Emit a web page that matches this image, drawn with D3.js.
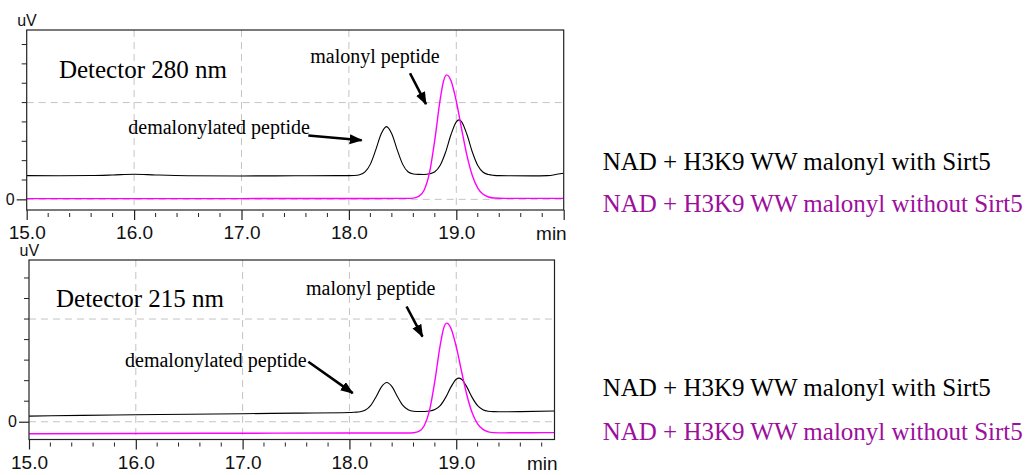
<!DOCTYPE html>
<html><head><meta charset="utf-8">
<script src="https://cdn.jsdelivr.net/npm/d3@7"></script>
<style>body{margin:0;background:#fff} svg{display:block}
.serif{font-family:"Liberation Serif","Tinos","DejaVu Serif","Noto Serif","Times New Roman",serif}
.sans{font-family:"Liberation Sans",Arimo,Arial,Helvetica,sans-serif}
</style>
</head><body>
<svg id="chart" width="1036" height="475"></svg>
<script>
// ---------------- DATA ----------------
const xTickValues = [15, 16, 17, 18, 19, 20];
const xTickLabels = ["15.0", "16.0", "17.0", "18.0", "19.0", ""];
const yTickLabels = ["0"];
const seriesNames = ["NAD + H3K9 WW malonyl with Sirt5", "NAD + H3K9 WW malonyl without Sirt5"];
const detectorLabels = ["Detector 280 nm", "Detector 215 nm"];
const peakLabels = ["demalonylated peptide", "malonyl peptide"];

// Detector 280 nm, with Sirt5 (black)
const t280With = [15.0,15.3,15.6,15.8,16.0,16.2,16.5,17.0,17.5,17.9,18.0,18.05,18.1,18.15,18.2,18.25,18.3,18.35,18.4,18.45,18.5,18.55,18.6,18.65,18.7,18.75,18.8,18.85,18.9,18.95,19.0,19.025,19.05,19.1,19.15,19.2,19.25,19.3,19.35,19.4,19.5,19.7,19.85,19.95,20.0];
const v280With = [0.245,0.244,0.246,0.252,0.26,0.252,0.244,0.242,0.244,0.245,0.245,0.246,0.254,0.283,0.364,0.511,0.676,0.752,0.676,0.511,0.364,0.285,0.262,0.258,0.257,0.264,0.285,0.352,0.487,0.667,0.801,0.821,0.801,0.667,0.487,0.350,0.280,0.256,0.248,0.245,0.244,0.243,0.245,0.262,0.27];
// Detector 280 nm, without Sirt5 (magenta)
const t280Without = [15.0,16.0,17.0,18.0,18.5,18.55,18.6,18.65,18.7,18.75,18.8,18.85,18.88,18.91,18.95,19.0,19.05,19.1,19.15,19.2,19.25,19.3,19.35,19.45,19.7,20.0];
const v280Without = [0.008,0.008,0.008,0.009,0.01,0.01,0.013,0.030,0.094,0.273,0.615,1.032,1.217,1.286,1.228,1.014,0.724,0.449,0.243,0.116,0.052,0.024,0.014,0.01,0.01,0.01];
// Detector 215 nm, with Sirt5 (black)
const t215With = [15.0,15.5,16.0,16.5,17.0,17.5,18.0,18.05,18.1,18.15,18.2,18.25,18.3,18.35,18.4,18.45,18.5,18.55,18.6,18.65,18.7,18.75,18.8,18.85,18.9,18.95,19.0,19.025,19.05,19.1,19.15,19.2,19.25,19.3,19.35,19.4,19.6,19.92];
const v215With = [0.055,0.062,0.068,0.073,0.078,0.084,0.090,0.093,0.097,0.114,0.160,0.244,0.339,0.382,0.339,0.244,0.160,0.117,0.102,0.099,0.100,0.104,0.119,0.157,0.235,0.337,0.414,0.425,0.414,0.337,0.235,0.157,0.117,0.102,0.098,0.097,0.098,0.104];
// Detector 215 nm, without Sirt5 (magenta)
const t215Without = [15.0,16.0,17.0,18.0,18.55,18.6,18.65,18.7,18.75,18.8,18.85,18.88,18.91,18.95,19.0,19.05,19.1,19.15,19.2,19.25,19.3,19.35,19.45,19.7,19.92];
const v215Without = [-0.117,-0.114,-0.112,-0.110,-0.110,-0.107,-0.094,-0.039,0.110,0.397,0.747,0.902,0.960,0.911,0.732,0.489,0.258,0.085,-0.021,-0.075,-0.098,-0.106,-0.108,-0.107,-0.106];

// annotation anchors in data units [time, value]
const ann280 = {
  detector: [15.30, 1.254],
  malonylText: [17.64, 1.406], malonylArrow: [[18.569, 1.303], [18.718, 0.984]],
  demalText: [15.946, 0.676], demalArrow: [[17.622, 0.66], [18.119, 0.611]]
};
const ann215 = {
  detector: [15.253, 1.12],
  malonylText: [17.594, 1.234], malonylArrow: [[18.535, 1.122], [18.684, 0.828]],
  demalText: [15.899, 0.536], demalArrow: [[17.615, 0.584], [18.031, 0.279]]
};

// ---------------- LAYOUT ----------------
const panels = [
  { x0: 26.7, x1: 563.7, y0: 30, y1: 210, xd: [15, 20], yd: [-0.11, 1.75],
    series: [[t280With, v280With], [t280Without, v280Without]], ann: ann280, det: detectorLabels[0],
    legendY: [170, 211.7] },
  { x0: 29, x1: 554.5, y0: 260, y1: 439.5, xd: [15, 19.92], yd: [-0.173, 1.575],
    series: [[t215With, v215With], [t215Without, v215Without]], ann: ann215, det: detectorLabels[1],
    legendY: [396, 440] }
];
const colors = ["#000000", "#ff00ff"];
const legendColors = ["#000000", "#9c0f9c"];

const svg = d3.select("#chart");
const defs = svg.append("defs");
defs.append("marker").attr("id", "ah")
  .attr("viewBox", "0 0 13 10").attr("refX", 12).attr("refY", 5)
  .attr("markerWidth", 13).attr("markerHeight", 10)
  .attr("markerUnits", "userSpaceOnUse").attr("orient", "auto")
  .append("path").attr("d", "M0,0 L13,5 L0,10 Z").attr("fill", "#000");

panels.forEach((p, pi) => {
  const x = d3.scaleLinear().domain(p.xd).range([p.x0, p.x1]);
  const y = d3.scaleLinear().domain(p.yd).range([p.y1, p.y0]);
  const g = svg.append("g");

  defs.append("clipPath").attr("id", "clip" + pi).append("rect")
    .attr("x", p.x0).attr("y", p.y0).attr("width", p.x1 - p.x0).attr("height", p.y1 - p.y0);

  // grid
  const grid = g.append("g").attr("stroke", "#c4c4c4").attr("stroke-width", 1).attr("stroke-dasharray", "7,5");
  [16, 17, 18, 19].forEach(v => grid.append("line")
    .attr("x1", x(v)).attr("x2", x(v)).attr("y1", p.y0).attr("y2", p.y1));
  [0, 1].forEach(v => grid.append("line")
    .attr("x1", p.x0).attr("x2", p.x1).attr("y1", y(v)).attr("y2", y(v)));

  // curves
  const line = d3.line().x(d => x(d[0])).y(d => y(d[1])).curve(d3.curveMonotoneX);
  const cg = g.append("g").attr("clip-path", `url(#clip${pi})`);
  p.series.forEach((s, si) => {
    const pts = s[0].map((t, i) => [t, s[1][i]]);
    cg.append("path").datum(pts).attr("d", line).attr("fill", "none")
      .attr("stroke", colors[si]).attr("stroke-width", si === 1 ? 1.4 : 1.1);
  });

  // frame
  g.append("rect").attr("x", p.x0).attr("y", p.y0).attr("width", p.x1 - p.x0).attr("height", p.y1 - p.y0)
    .attr("fill", "none").attr("stroke", "#222").attr("stroke-width", 1.2);

  // x axis (major ticks + labels)
  const xt = xTickValues.filter(v => v >= p.xd[0] && v <= p.xd[1] + 1e-9);
  const xAxis = d3.axisBottom(x).tickValues(xt).tickSize(10).tickPadding(6)
    .tickFormat(v => xTickLabels[xTickValues.indexOf(v)]);
  const xg = g.append("g").attr("transform", `translate(0,${p.y1})`).call(xAxis);
  xg.attr("font-family", null).attr("font-size", null);
  xg.select(".domain").remove();
  xg.selectAll("line").attr("stroke", "#222").attr("stroke-width", 1.2);
  xg.selectAll("text").attr("class", "sans").style("font-size", "19px").attr("fill", "#111");
  // minor x ticks
  const minorX = d3.range(Math.round(p.xd[0] * 5), Math.floor(p.xd[1] * 5 + 1e-6) + 1).map(k => k / 5)
    .filter(v => Math.abs(v - Math.round(v)) > 1e-6);
  g.append("g").selectAll("line").data(minorX).join("line")
    .attr("x1", d => x(d)).attr("x2", d => x(d)).attr("y1", p.y1 + 3).attr("y2", p.y1 + 7)
    .attr("stroke", "#222").attr("stroke-width", 1);
  g.append("text").attr("class", "sans").attr("x", p.x1 + 3).attr("y", p.y1 + 30).attr("text-anchor", "end")
    .style("font-size", "19px").attr("fill", "#111").text("min");

  // y axis
  const yAxis = d3.axisLeft(y).tickValues([0]).tickSize(10).tickPadding(2).tickFormat((d, i) => yTickLabels[i]);
  const yg = g.append("g").attr("transform", `translate(${p.x0},0)`).call(yAxis);
  yg.attr("font-family", null).attr("font-size", null);
  yg.select(".domain").remove();
  yg.selectAll("line").attr("stroke", "#222").attr("stroke-width", 1.2);
  yg.selectAll("text").attr("class", "sans").style("font-size", "16px").attr("fill", "#111");
  const minorY = d3.range(1, 20).map(k => k / 5).filter(v => v <= p.yd[1]);
  g.append("g").selectAll("line").data(minorY).join("line")
    .attr("x1", p.x0 - 5).attr("x2", p.x0).attr("y1", d => y(d)).attr("y2", d => y(d))
    .attr("stroke", "#222").attr("stroke-width", 1);
  g.append("text").attr("class", "sans").attr("x", p.x0 - 9.5).attr("y", p.y0 - 4)
    .style("font-size", "16px").attr("fill", "#111").text("uV");

  // annotations
  const a = p.ann;
  g.append("text").attr("class", "serif").attr("x", x(a.detector[0])).attr("y", y(a.detector[1]))
    .style("font-size", "25px").attr("fill", "#000").text(p.det);
  g.append("text").attr("class", "serif").attr("x", x(a.malonylText[0])).attr("y", y(a.malonylText[1]))
    .style("font-size", "20px").attr("fill", "#000").text(peakLabels[1]);
  g.append("text").attr("class", "serif").attr("x", x(a.demalText[0])).attr("y", y(a.demalText[1]))
    .style("font-size", "20px").attr("fill", "#000").text(peakLabels[0]);
  [a.malonylArrow, a.demalArrow].forEach(ar => {
    g.append("line").attr("x1", x(ar[0][0])).attr("y1", y(ar[0][1]))
      .attr("x2", x(ar[1][0])).attr("y2", y(ar[1][1]))
      .attr("stroke", "#000").attr("stroke-width", 2.6).attr("marker-end", "url(#ah)");
  });

  // legend
  seriesNames.forEach((name, si) => {
    svg.append("text").attr("class", "serif").attr("x", 602.7).attr("y", p.legendY[si])
      .style("font-size", "25px").attr("fill", legendColors[si]).text(name);
  });
});
</script>
</body></html>
